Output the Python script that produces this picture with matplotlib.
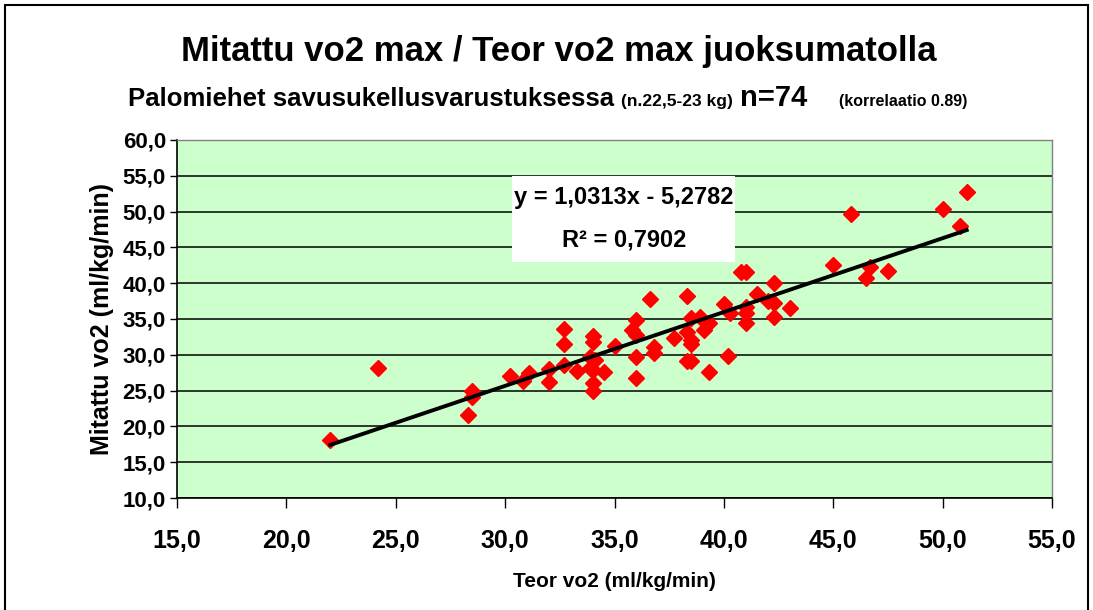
import numpy as np
import matplotlib
matplotlib.use("Agg")
import matplotlib.pyplot as plt
from matplotlib.ticker import FuncFormatter, MultipleLocator
from matplotlib.patches import Rectangle

plt.rcParams['font.family'] = ['Liberation Sans', 'DejaVu Sans']
plt.rcParams['font.weight'] = 'bold'

teor_vo2 = [22.0, 24.2, 28.5, 28.5, 28.3, 30.2, 30.8, 31.1, 32.0, 32.0,
            32.7, 32.7, 32.7, 33.3, 34.0, 34.0, 33.9, 34.1, 33.9, 34.0,
            34.0, 34.0, 34.5, 35.0, 36.0, 35.8, 36.0, 36.0, 36.0, 36.6,
            36.8, 36.8, 37.7, 38.3, 38.5, 38.9, 39.3, 39.1, 38.3, 38.5,
            38.5, 38.3, 38.5, 39.3, 40.0, 40.3, 40.2, 40.8, 41.0, 41.0,
            41.0, 41.0, 41.5, 42.0, 42.3, 42.3, 42.3, 43.0, 45.0, 45.8,
            46.7, 46.5, 47.5, 50.0, 50.8, 51.1]
mitattu_vo2 = [18.1, 28.1, 24.9, 24.1, 21.6, 27.1, 26.4, 27.4, 28.0, 26.2,
               33.6, 31.5, 28.6, 27.7, 32.6, 31.8, 29.7, 29.3, 28.1, 27.9,
               26.1, 24.9, 27.6, 31.2, 34.9, 33.5, 32.8, 29.7, 26.8, 37.8,
               31.1, 30.2, 32.3, 38.2, 35.1, 35.3, 34.4, 33.4, 33.2, 32.1,
               31.5, 29.2, 29.2, 27.6, 37.1, 35.8, 29.9, 41.5, 41.5, 36.7,
               35.9, 34.5, 38.5, 37.5, 40.0, 37.3, 35.3, 36.6, 42.6, 49.7,
               42.3, 40.7, 41.7, 50.3, 48.0, 52.7]

# Linear trendline shown in the chart
slope = 1.0313
intercept = -5.2782
r_squared = 0.7902

fig = plt.figure(figsize=(10.93, 6.10), dpi=100)
ax = fig.add_axes([177 / 1093, 1 - 498 / 610, 875 / 1093, 358 / 610])
ax.set_facecolor('#CCFFCC')

ax.plot(teor_vo2, mitattu_vo2, linestyle='none', marker='D', markersize=8,
        color='#FF0000', zorder=3)

tx = np.array([min(teor_vo2), max(teor_vo2)])
ax.plot(tx, slope * tx + intercept, color='black', linewidth=2.8, zorder=4)

ax.set_xlim(15, 55)
ax.set_ylim(10, 60)
ax.xaxis.set_major_locator(MultipleLocator(5))
ax.yaxis.set_major_locator(MultipleLocator(5))
comma = FuncFormatter(lambda v, p: f"{v:.1f}".replace('.', ','))
ax.xaxis.set_major_formatter(comma)
ax.yaxis.set_major_formatter(comma)
ax.grid(axis='y', color='black', linewidth=1.1, zorder=1)
ax.set_axisbelow(True)
ax.tick_params(axis='x', labelsize=18, length=7, width=1, pad=15)
ax.tick_params(axis='y', labelsize=16, length=5, width=1, pad=3)
for lab in ax.get_xticklabels() + ax.get_yticklabels():
    lab.set_fontweight('bold')
for s in ['top', 'right']:
    ax.spines[s].set_color('#808080')
    ax.spines[s].set_linewidth(1)
for s in ['left', 'bottom']:
    ax.spines[s].set_color('black')
    ax.spines[s].set_linewidth(1.2)

ax.set_xlabel('Teor vo2 (ml/kg/min)', fontsize=15, fontweight='bold', labelpad=14)
ax.set_ylabel('Mitattu vo2 (ml/kg/min)', fontsize=18, fontweight='bold', labelpad=6)

# equation box
ax.add_patch(Rectangle((0.383, 0.659), 0.255, 0.240, transform=ax.transAxes,
                       facecolor='white', edgecolor='none', zorder=5))
ax.text(0.511, 0.838, f"y = {slope:.4f}x - {abs(intercept):.4f}".replace('.', ','),
        transform=ax.transAxes, ha='center', va='center', fontsize=17,
        fontweight='bold', zorder=6)
ax.text(0.511, 0.72, f"R² = {r_squared:.4f}".replace('.', ','),
        transform=ax.transAxes, ha='center', va='center', fontsize=17,
        fontweight='bold', zorder=6)

# titles
fig.text(0.511, 1 - 52 / 610, 'Mitattu vo2 max / Teor vo2 max juoksumatolla',
         ha='center', va='center', fontsize=25, fontweight='bold')

pieces = [('Palomiehet savusukellusvarustuksessa', 18.5, 0),
          ('(n.22,5-23 kg)', 12.5, 7),
          ('n=74', 21, 7),
          ('(korrelaatio 0.89)', 11.5, 32)]
renderer = fig.canvas.get_renderer()
x = 128
base_y = 1 - 106 / 610
for txt, size, gap in pieces:
    x += gap
    t = fig.text(x / 1093, base_y, txt, ha='left', va='baseline',
                 fontsize=size, fontweight='bold')
    x += t.get_window_extent(renderer).width

# outer frame
fig.patches.append(Rectangle((5 / 1093, -0.05), 1083 / 1093, 1.05 - 5 / 610,
                             transform=fig.transFigure, fill=False,
                             edgecolor='black', linewidth=1.5))

fig.savefig('out.png', dpi=100)
